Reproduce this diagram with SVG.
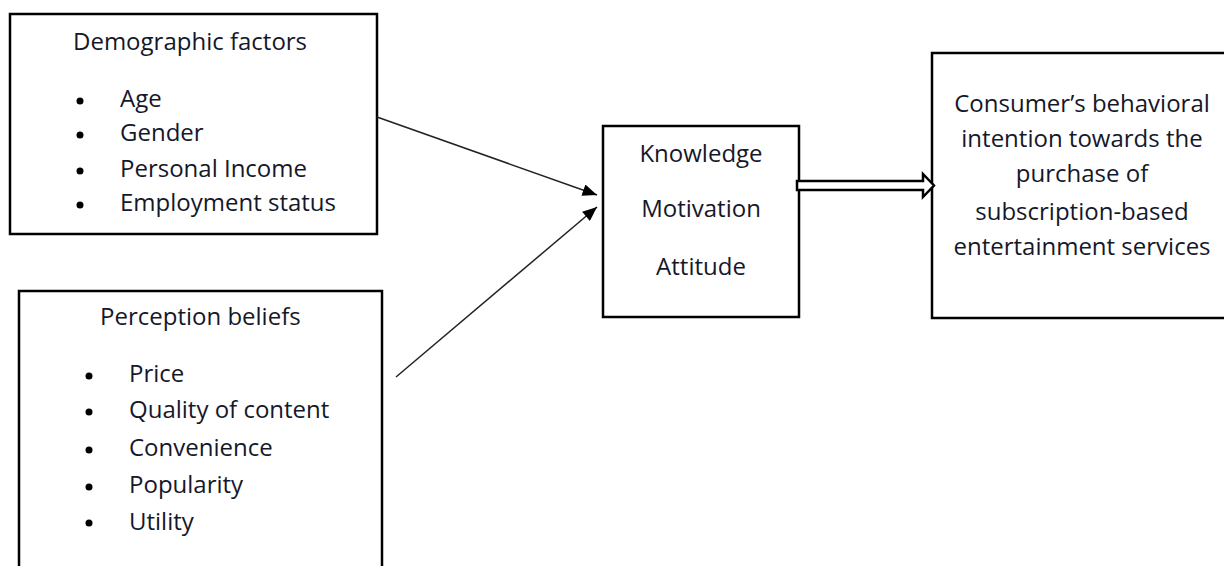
<svg xmlns="http://www.w3.org/2000/svg" width="1224" height="566" viewBox="0 0 1224 566">
<defs>
<style>
.box{fill:#fff;stroke:#000;stroke-width:2.5}
.t{font-family:"Open Sans","Liberation Sans",sans-serif;font-size:24px;fill:#15182a}
.c{text-anchor:middle}
.line{stroke:#222;stroke-width:1.5;fill:none}
</style>
<marker id="ah" viewBox="0 0 12 10" refX="12" refY="5" markerWidth="15" markerHeight="12" markerUnits="userSpaceOnUse" orient="auto">
<path d="M0,0 L12,5 L0,10 Z" fill="#000"/>
</marker>
</defs>
<rect width="1224" height="566" fill="#fff"/>
<text class="t" x="34" y="-5">[1]</text>
<g id="demographic">
<rect class="box" x="10" y="14" width="367" height="220"/>
<text class="t" x="73" y="50">Demographic factors</text>
<g fill="#000"><circle cx="80" cy="101" r="3.5"/><circle cx="80" cy="135" r="3.5"/><circle cx="80" cy="171" r="3.5"/><circle cx="80" cy="205" r="3.5"/></g>
<text class="t" x="120" y="107">Age</text>
<text class="t" x="120" y="141">Gender</text>
<text class="t" x="120" y="177">Personal Income</text>
<text class="t" x="120" y="211">Employment status</text>
</g>
<g id="perception">
<rect class="box" x="19" y="291" width="363" height="290"/>
<text class="t" x="100" y="325">Perception beliefs</text>
<g fill="#000"><circle cx="89" cy="376" r="3.5"/><circle cx="89" cy="412" r="3.5"/><circle cx="89" cy="450" r="3.5"/><circle cx="89" cy="487" r="3.5"/><circle cx="89" cy="523" r="3.5"/></g>
<text class="t" x="129" y="382">Price</text>
<text class="t" x="129" y="418">Quality of content</text>
<text class="t" x="129" y="456">Convenience</text>
<text class="t" x="129" y="493">Popularity</text>
<text class="t" x="129" y="530">Utility</text>
</g>
<g id="mediators">
<rect class="box" x="603" y="126" width="196" height="191"/>
<text class="t c" x="701" y="162">Knowledge</text>
<text class="t c" x="701" y="217">Motivation</text>
<text class="t c" x="701" y="275">Attitude</text>
</g>
<g id="intention">
<rect class="box" x="932" y="53" width="300" height="265"/>
<text class="t c" x="1082" y="112">Consumer’s behavioral</text>
<text class="t c" x="1082" y="147">intention towards the</text>
<text class="t c" x="1082" y="182">purchase of</text>
<text class="t c" x="1082" y="220">subscription-based</text>
<text class="t c" x="1082" y="255">entertainment services</text>
</g>
<g id="connectors">
<line class="line" x1="377" y1="117" x2="597" y2="195" marker-end="url(#ah)"/>
<line class="line" x1="396" y1="377" x2="597" y2="207" marker-end="url(#ah)"/>
<polygon points="797,181 923,181 923,174 934,185.5 923,197 923,190 797,190" fill="#fff" stroke="#000" stroke-width="2.5" stroke-linejoin="miter"/>
</g>
</svg>
